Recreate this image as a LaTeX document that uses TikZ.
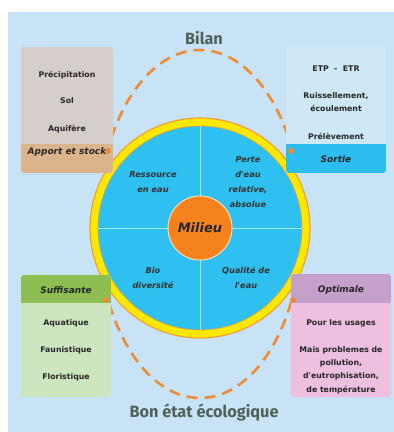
\documentclass[tikz,border=0pt]{standalone}
\usepackage{fontspec}
\setmainfont{Fira Sans}
\newfontfamily\boxfont{DejaVu Sans}
\definecolor{bgblue}{RGB}{200,226,246}
\definecolor{ringyellow}{RGB}{255,232,0}
\definecolor{ringorange}{RGB}{240,160,50}
\definecolor{discblue}{RGB}{46,192,240}
\definecolor{coreorange}{RGB}{246,130,30}
\definecolor{dashorange}{RGB}{236,140,52}
\definecolor{titlecol}{RGB}{78,98,88}
\definecolor{tlbody}{RGB}{214,206,202}
\definecolor{tlhead}{RGB}{220,180,140}
\definecolor{trbody}{RGB}{206,232,246}
\definecolor{trhead}{RGB}{44,190,240}
\definecolor{blbody}{RGB}{206,230,192}
\definecolor{blhead}{RGB}{140,190,82}
\definecolor{brbody}{RGB}{236,192,222}
\definecolor{brhead}{RGB}{196,160,202}
\definecolor{divline}{RGB}{170,228,250}
\begin{document}
\begin{tikzpicture}[x=1pt,y=-1pt,
  every node/.style={inner sep=0pt, align=center},
  boxshape/.style={rectangle, rounded corners=3pt, draw=none},
  boxtxt/.style={font=\boxfont\fontsize{7.8}{12.5}\selectfont\bfseries, text=black!85},
  headtxt/.style={font=\boxfont\fontsize{9}{10}\selectfont\bfseries\itshape, text=black!85},
  quadtxt/.style={font=\boxfont\fontsize{8.2}{15}\selectfont\bfseries\itshape, text=black!80},
  titletxt/.style={font=\fontsize{16.3}{18}\selectfont\bfseries, text=titlecol},
  dashring/.style={draw=dashorange, line width=2.6pt, dash pattern=on 11pt off 7pt},
  dotmark/.style={fill=dashorange, draw=none}
]
\useasboundingbox (0,0) rectangle (394,432);
% background
\fill[white] (0,0) rectangle (394,432);
\fill[bgblue] (8,12) rectangle (394,432);

% dashed ellipse (only its upper and lower parts show)
\begin{scope}
  \clip (0,0) rectangle (394,151) (0,300) rectangle (394,432);
  \draw[dashring] (200,224) ellipse [x radius=102pt, y radius=174pt];
\end{scope}

% central disc
\node[circle, fill=ringyellow, draw=ringorange, line width=1.2pt, minimum size=220pt] (ring) at (200,228) {};
\node[circle, fill=discblue, draw=ringorange, line width=0.6pt, minimum size=204pt] (disc) at (200,228) {};
\draw[divline, line width=0.8pt] (disc.north) -- (disc.south);
\draw[divline, line width=0.8pt] (disc.west) -- (disc.east);
\node[circle, fill=coreorange, draw={rgb,255:red,255;green,222;blue,170}, line width=1pt, minimum size=64pt,
      font=\boxfont\fontsize{13}{16}\selectfont\bfseries\itshape, text=black!85] (milieu) at (200,228) {Milieu};

% quadrant texts
\node[quadtxt] (q1) at (153,182.5) {Ressource\\en eau};
\node[quadtxt] (q2) at (248,182.5) {Perte\\d'eau\\relative,\\absolue};
\node[quadtxt] (q3) at (153,277.5) {Bio\\diversité};
\node[quadtxt] (q4) at (246,277.5) {Qualité de\\l'eau};

% top-left box
\node[boxshape, fill=tlbody, minimum width=92pt, minimum height=126pt] (tl) at (67,110) {};
\begin{scope}
  \clip[rounded corners=3pt] (21,47) rectangle (113,173);
  \fill[tlhead] (21,144) rectangle (113,173);
\end{scope}
\node[boxtxt] (tl1) at (67,75) {Précipitation};
\node[boxtxt] (tl2) at (67,101) {Sol};
\node[boxtxt] (tl3) at (67,129) {Aquifère};
\node[headtxt] (tlh) at (67,152.5) {Apport et stock};

% top-right box
\node[boxshape, fill=trbody, minimum width=100pt, minimum height=126pt] (tr) at (336,110) {};
\begin{scope}
  \clip[rounded corners=3pt] (286,47) rectangle (386,173);
  \fill[trhead] (286,144) rectangle (386,173);
\end{scope}
\node[boxtxt] (tr1) at (336,69) {ETP\ \ -\ \ ETR};
\node[boxtxt] (tr2) at (336,102) {Ruissellement,\\écoulement};
\node[boxtxt] (tr3) at (336,136) {Prélèvement};
\node[headtxt] (trh) at (336,159) {Sortie};

% bottom-left box
\node[boxshape, fill=blbody, minimum width=90pt, minimum height=122pt] (bl) at (66,336) {};
\begin{scope}
  \clip[rounded corners=3pt] (21,275) rectangle (111,397);
  \fill[blhead] (21,275) rectangle (111,303);
\end{scope}
\node[headtxt] (blh) at (66,290) {Suffisante};
\node[boxtxt] (bl1) at (66,323) {Aquatique};
\node[boxtxt] (bl2) at (66,350) {Faunistique};
\node[boxtxt] (bl3) at (66,377) {Floristique};

% bottom-right box
\node[boxshape, fill=brbody, minimum width=100pt, minimum height=123pt] (br) at (341,335.5) {};
\begin{scope}
  \clip[rounded corners=3pt] (291,274) rectangle (391,397);
  \fill[brhead] (291,274) rectangle (391,303);
\end{scope}
\node[headtxt] (brh) at (341,290) {Optimale};
\node[boxtxt] (br1) at (341,323) {Pour les usages};
\node[boxtxt, font=\boxfont\fontsize{7.8}{13.3}\selectfont\bfseries] (br2) at (341,370) {Mais problemes de\\pollution,\\d'eutrophisation,\\de température};

% dots on the dashed ellipse
\coordinate (dtl) at (108,151);
\coordinate (dtr) at (291,151);
\coordinate (dbl) at (106,300);
\coordinate (dbr) at (293,300);
\foreach \c in {dtl,dtr,dbl,dbr} \fill[dotmark] (\c) circle [radius=3pt];

% titles
\node[titletxt] (bilan) at (204,38) {Bilan};
\node[titletxt] (bonetat) at (204,412) {Bon état écologique};
\end{tikzpicture}
\end{document}
